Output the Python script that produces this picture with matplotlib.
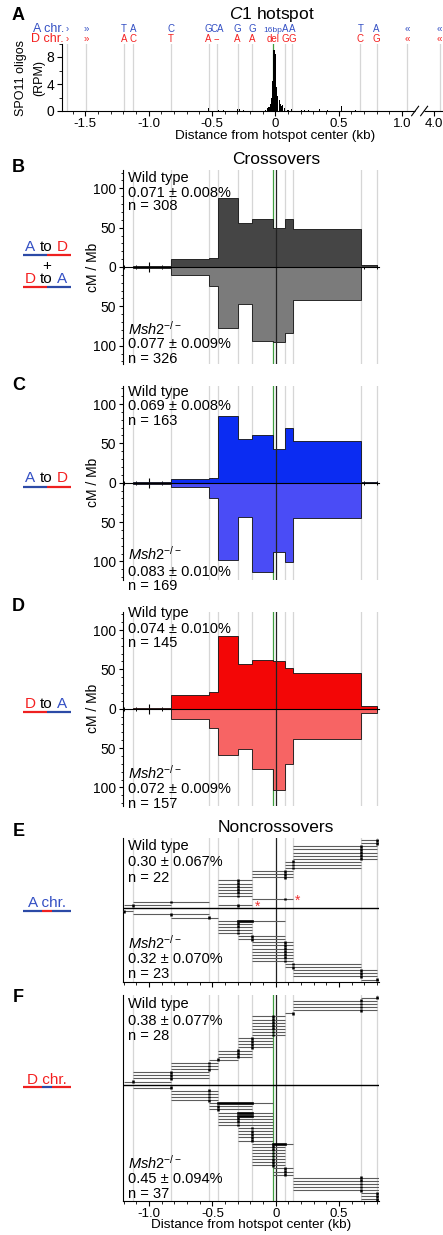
import matplotlib
matplotlib.use('Agg')
import matplotlib.pyplot as plt
from matplotlib.lines import Line2D
from matplotlib.ticker import FixedLocator, MultipleLocator
import matplotlib.transforms as mtrans

plt.rcParams['font.family'] = ['Liberation Sans', 'DejaVu Sans']
plt.rcParams['mathtext.fontset'] = 'custom'
plt.rcParams['mathtext.rm'] = 'Liberation Sans'
plt.rcParams['mathtext.it'] = 'Liberation Sans:italic'
plt.rcParams['mathtext.bf'] = 'Liberation Sans:bold'
plt.rcParams['axes.unicode_minus'] = False
plt.rcParams['axes.linewidth'] = 0.8

# ---------------- data ----------------
# Panel A polymorphism positions (kb); the last two lie beyond the axis break
poly_a = [-1.642, -1.492, -1.195, -1.124, -0.824, -0.526, -0.458, -0.298,
          -0.185, -0.019, 0.076, 0.134, 0.671, 0.800, 1.039, 1.297]
allele_a = ['›', '»', 'T', 'A', 'C', 'G', 'CA', 'G', 'G', '16bp', 'A', 'A', 'T', 'A', '«', '«']
allele_d = ['›', '»', 'A', 'C', 'T', 'A', '--', 'A', 'A', 'del', 'G', 'G', 'C', 'G', '«', '«']
del_index = 9

spo11_kb = [-0.53, -0.45, -0.41, -0.30, -0.28, -0.25, -0.08, -0.06, -0.05, -0.04,
            -0.03, -0.02, -0.01, 0.00, 0.01, 0.02, 0.03, 0.04, 0.05, 0.06,
            0.07, 0.10, 0.13, 0.21, 0.23, 0.26, 0.35, 0.41, 0.52, 0.63]
spo11_rpm = [0.4, 0.15, 0.15, 0.35, 0.3, 0.15, 0.2, 0.4, 0.6, 1.0,
             2.0, 4.5, 9.1, 8.5, 3.6, 2.2, 1.6, 1.0, 0.7, 0.9,
             0.4, 0.2, 0.25, 0.15, 0.2, 0.15, 0.3, 0.15, 0.75, 0.15]

a_xticks = [-1.5, -1.0, -0.5, 0.0, 0.5, 1.0, 1.25]
a_xticklabels = ['-1.5', '-1.0', '-0.5', '0', '0.5', '1.0', '4.0']

# markers used in panels B-F (index 0..11)
poly_bf = poly_a[2:14]

# crossover bins (edges = markers 1..11), cM/Mb
co_edges = poly_bf[1:12]
co_b_wt = [1.5, 10, 12, 88, 56, 61, 50, 61, 48, 2]
co_b_mu = [0.8, 10, 24, 77, 47, 94, 95, 84, 42, 0.5]
co_c_wt = [0.5, 5, 6, 85, 56, 61, 43, 70, 53, 0.3]
co_c_mu = [1.5, 5, 20, 98, 44, 114, 88, 101, 45, 0.3]
co_d_wt = [0.5, 18, 21, 92, 57, 62, 60, 52, 45, 4]
co_d_mu = [0.5, 13, 25, 59, 51, 76, 103, 70, 39, 5]

# noncrossover tracts: (left bound, right bound, first converted, last converted, rows)
# marker indices into poly_bf; 'L'/'R' = beyond the axis edge
nco_e_wt = [(0, 2, 1, 1, 1), (1, 3, 2, 2, 1), (6, 9, 8, 8, 1), (4, 6, 5, 5, 6),
            (6, 9, 8, 8, 3), (8, 10, 9, 9, 3), (9, 11, 10, 10, 5), (10, 'R', 11, 11, 2)]
nco_e_wt_extra = [(1, 4, 6, 5, 5)]          # (row, left, right, conv lo, conv hi)
nco_e_wt_star_rows = [1, 3]
nco_e_mu = [('L', 1, 0, 0, 1), (1, 3, 2, 2, 1), (2, 4, 3, 3, 1), (4, 8, 5, 6, 1),
            (4, 6, 5, 5, 4), (5, 8, 6, 6, 2), (6, 9, 8, 8, 7), (8, 10, 9, 9, 2),
            (9, 11, 10, 10, 3), (10, 'R', 11, 11, 1)]
nco_f_wt = [(0, 2, 1, 1, 1), (1, 3, 2, 2, 3), (2, 4, 3, 3, 3), (3, 5, 4, 4, 1),
            (4, 6, 5, 5, 3), (5, 7, 6, 6, 4), (6, 8, 7, 7, 7), (8, 9, 9, 9, 1),
            (9, 11, 10, 10, 4), (10, 'R', 11, 11, 1)]
nco_f_mu = [(1, 2, 2, 2, 1), (2, 4, 3, 3, 4), (3, 7, 4, 6, 1), (3, 6, 4, 4, 2),
            (4, 7, 5, 6, 2), (4, 7, 5, 5, 3), (5, 7, 6, 6, 5), (6, 9, 7, 8, 1),
            (6, 8, 7, 7, 7), (7, 9, 8, 8, 3), (9, 'R', 10, 10, 5), (10, 'R', 11, 11, 3)]

stats_b = (['Wild type', '0.071 ± 0.008%', 'n = 308'], ['0.077 ± 0.009%', 'n = 326'])
stats_c = (['Wild type', '0.069 ± 0.008%', 'n = 163'], ['0.083 ± 0.010%', 'n = 169'])
stats_d = (['Wild type', '0.074 ± 0.010%', 'n = 145'], ['0.072 ± 0.009%', 'n = 157'])
stats_e = (['Wild type', '0.30 ± 0.067%', 'n = 22'], ['0.32 ± 0.070%', 'n = 23'])
stats_f = (['Wild type', '0.38 ± 0.077%', 'n = 28'], ['0.45 ± 0.094%', 'n = 37'])

# ---------------- figure ----------------
W, H = 443, 1235
fig = plt.figure(figsize=(W / 100, H / 100), dpi=100)

BLUE_T = '#3450c4'
RED_T = '#f42020'
BLUE_B = '#2c4aa6'
RED_B = '#ee2020'
GREY_V = '#d6d6d6'
GREEN = '#3f9e3f'


def rect(l, t, r, b):
    return [l / W, 1 - b / H, (r - l) / W, (b - t) / H]


def ftext(x, y, s, **kw):
    return fig.text(x / W, 1 - y / H, s, **kw)


def fline(x0, x1, y, color, lw=1.6):
    fig.add_artist(Line2D([x0 / W, x1 / W], [1 - y / H, 1 - y / H],
                          transform=fig.transFigure, color=color, lw=lw,
                          solid_capstyle='butt'))


# ---------- Panel A ----------
axA = fig.add_axes(rect(62, 43.5, 443, 111))
axA.set_xlim(-1.6835, 1.3236)
axA.set_ylim(0, 10)
for i, p in enumerate(poly_a):
    if i == del_index:
        axA.axvline(p, color=GREEN, lw=0.9, zorder=1)
    else:
        axA.axvline(p, color=GREY_V, lw=0.9, zorder=0)
axA.bar(spo11_kb, spo11_rpm, width=0.009, color='k', zorder=2)
for s in ['top', 'right', 'bottom']:
    axA.spines[s].set_visible(False)
axA.set_xticks(a_xticks)
axA.set_xticklabels(a_xticklabels)
axA.xaxis.set_minor_locator(FixedLocator([round(-1.6 + 0.1 * i, 2) for i in range(27)]))
axA.tick_params(axis='x', which='major', length=3.5, width=0.8, labelsize=9.5, pad=1.5)
axA.tick_params(axis='x', which='minor', length=2, width=0.6)
axA.set_yticks([0, 4, 8])
axA.yaxis.set_minor_locator(FixedLocator([2, 6, 10]))
axA.tick_params(axis='y', which='major', length=3.5, width=0.8, labelsize=10, pad=2)
axA.tick_params(axis='y', which='minor', length=2, width=0.6)
trA = mtrans.blended_transform_factory(axA.transData, axA.transAxes)
axA.plot([-1.6835, 1.105], [0, 0], transform=trA, color='k', lw=0.8, clip_on=False,
         solid_capstyle='butt')
axA.plot([1.175, 1.33], [0, 0], transform=trA, color='k', lw=0.8, clip_on=False,
         solid_capstyle='butt')
axA.plot([1.076, 1.131], [-0.07, 0.07], transform=trA, color='k', lw=0.8, clip_on=False)
axA.plot([1.147, 1.202], [-0.07, 0.07], transform=trA, color='k', lw=0.8, clip_on=False)

trL = mtrans.blended_transform_factory(axA.transData, fig.transFigure)
for p, la, ld in zip(poly_a, allele_a, allele_d):
    fsa = 6 if la == '16bp' else 7
    axA.text(p, 1 - 31.7 / H, la, transform=trL, ha='center', va='baseline',
             fontsize=fsa, color=BLUE_T, clip_on=False)
    axA.text(p, 1 - 42.3 / H, ld, transform=trL, ha='center', va='baseline',
             fontsize=7, color=RED_T, clip_on=False)
ftext(64, 31.7, 'A chr.', ha='right', va='baseline', fontsize=9, color=BLUE_T)
ftext(64, 42.3, 'D chr.', ha='right', va='baseline', fontsize=9, color=RED_T)
ftext(272, 14, r'$\mathit{C1}$ hotspot', ha='center', va='center', fontsize=12.5)
ftext(21, 78, 'SPO11 oligos', rotation=90, ha='center', va='center', fontsize=9)
ftext(39, 78, '(RPM)', rotation=90, ha='center', va='center', fontsize=9)
ftext(275, 136, 'Distance from hotspot center (kb)', ha='center', va='center', fontsize=9.7)

# ---------- helpers for B-F ----------
XL = (-1.2076, 0.8153)


def pos(m):
    if m == 'L':
        return -1.3
    if m == 'R':
        return 0.9
    return poly_bf[m]


def vlines(ax, green=True):
    for i, p in enumerate(poly_bf):
        if i == 0:
            continue
        if i == 7:
            if green:
                ax.axvline(p, color=GREEN, lw=0.9, zorder=1)
        else:
            ax.axvline(p, color=GREY_V, lw=0.9, zorder=0)


def xminor(ax):
    ax.xaxis.set_major_locator(FixedLocator([-1.0, -0.5, 0.0, 0.5]))
    ax.xaxis.set_minor_locator(FixedLocator([round(-1.2 + 0.1 * i, 2) for i in range(21)]))


def stats(y_wt, y_mu, st, fs=10.5):
    for y, s in zip(y_wt, st[0]):
        ftext(127.7, y, s, ha='left', va='baseline', fontsize=fs)
    ftext(127.7, y_mu[0], r'$\mathit{Msh2}^{\mathit{-/-}}$', ha='left', va='baseline', fontsize=fs)
    for y, s in zip(y_mu[1:], st[1]):
        ftext(127.7, y, s, ha='left', va='baseline', fontsize=fs)


def co_panel(t, b, wt, mu, cwt, cmu):
    ax = fig.add_axes(rect(122.7, t, 379, b))
    ax.patch.set_alpha(0)
    ax.set_xlim(*XL)
    ax.set_ylim(-123, 123)
    vlines(ax)
    ax.stairs(wt, co_edges, baseline=0, fill=True, facecolor=cwt, edgecolor='#111111',
              linewidth=0.6, zorder=2)
    ax.stairs([-v for v in mu], co_edges, baseline=0, fill=True, facecolor=cmu,
              edgecolor='#111111', linewidth=0.6, zorder=2)
    ax.axvline(0, color='#222222', lw=0.9, zorder=4)
    for s in ['top', 'right']:
        ax.spines[s].set_visible(False)
    ax.spines['bottom'].set_position(('data', 0))
    ax.spines['bottom'].set_zorder(5)
    xminor(ax)
    ax.tick_params(axis='x', which='major', direction='inout', length=6.5, width=0.8,
                   labelbottom=False)
    ax.tick_params(axis='x', which='minor', direction='inout', length=3.2, width=0.7)
    ax.set_yticks([-100, -50, 0, 50, 100])
    ax.set_yticklabels(['100', '50', '0', '50', '100'])
    ax.yaxis.set_minor_locator(MultipleLocator(10))
    ax.tick_params(axis='y', which='major', direction='out', length=3, width=0.8,
                   labelsize=10, pad=2)
    ax.tick_params(axis='y', which='minor', direction='out', length=1.6, width=0.6)
    ftext(93, (t + b) / 2, 'cM / Mb', rotation=90, ha='center', va='center', fontsize=10)
    return ax


def draw_tract(ax, y, l, r, lo, hi):
    ax.plot([pos(l), pos(r)], [y, y], color='#5c5c5c', lw=0.8,
            solid_capstyle='butt', zorder=3)
    if lo == hi:
        ax.plot([pos(lo), pos(lo)], [y - 0.45, y + 0.45], color='k', lw=1.8,
                solid_capstyle='butt', zorder=4)
    else:
        ax.plot([pos(lo), pos(hi)], [y, y], color='k', lw=1.9,
                solid_capstyle='projecting', zorder=4)


def draw_groups(ax, groups, sign):
    k = 0
    for (l, r, lo, hi, n) in groups:
        for _ in range(n):
            k += 1
            draw_tract(ax, sign * k, l, r, lo, hi)


def nco_panel(t, b, ylim, wt, mu, green, labels):
    ax = fig.add_axes(rect(122.7, t, 379, b))
    ax.patch.set_alpha(0)
    ax.set_xlim(*XL)
    ax.set_ylim(*ylim)
    vlines(ax, green=green)
    ax.axvline(0, color='#222222', lw=0.9, zorder=2)
    ax.axhline(0, color='k', lw=1.0, zorder=5)
    draw_groups(ax, wt, 1)
    draw_groups(ax, mu, -1)
    for s in ['top', 'right']:
        ax.spines[s].set_visible(False)
    xminor(ax)
    ax.set_yticks([])
    ax.tick_params(axis='x', which='major', direction='out', length=3.5, width=0.8,
                   labelbottom=labels, labelsize=9.5, pad=1.5)
    ax.tick_params(axis='x', which='minor', direction='out', length=2, width=0.6)
    if labels:
        ax.set_xticklabels(['-1.0', '-0.5', '0', '0.5'])
    return ax


def two_color_label(y_base, y_bar, left, right, first, second):
    c1 = BLUE_T if first == 'A' else RED_T
    c2 = BLUE_T if second == 'A' else RED_T
    ftext(30.2, y_base, first, ha='center', va='baseline', fontsize=11, color=c1)
    ftext(45.9, y_base, 'to', ha='center', va='baseline', fontsize=11, color='k')
    ftext(62.0, y_base, second, ha='center', va='baseline', fontsize=11, color=c2)
    fline(23.3, 47, y_bar, left)
    fline(47, 70.7, y_bar, right)


# ---------- Panel B ----------
ftext(276, 159, 'Crossovers', ha='center', va='center', fontsize=12.5)
co_panel(170.2, 363.8, co_b_wt, co_b_mu, '#454545', '#7b7b7b')
stats([181.7, 196.7, 210.5], [335, 348.5, 363.5], stats_b)
two_color_label(251, 255, BLUE_B, RED_B, 'A', 'D')
ftext(46.7, 265.7, '+', ha='center', va='center', fontsize=11)
two_color_label(282.7, 286.7, RED_B, BLUE_B, 'D', 'A')

# ---------- Panel C ----------
co_panel(385.9, 579.5, co_c_wt, co_c_mu, '#0b2cf2', '#4a4cf6')
stats([395.7, 410.2, 425], [560, 576.5, 590.5], stats_c)
two_color_label(482.3, 486.5, BLUE_B, RED_B, 'A', 'D')

# ---------- Panel D ----------
co_panel(611.9, 805.5, co_d_wt, co_d_mu, '#f30606', '#f76464')
stats([616.7, 633.3, 647], [778.3, 793.3, 807.7], stats_d)
two_color_label(708.3, 711.8, RED_B, BLUE_B, 'D', 'A')

# ---------- Panel E ----------
ftext(276, 827, 'Noncrossovers', ha='center', va='center', fontsize=12.5)
axE = nco_panel(838.3, 982.3, (-23.9, 22.6), nco_e_wt, nco_e_mu, False, False)
for (row, l, r, lo, hi) in nco_e_wt_extra:
    draw_tract(axE, row, l, r, lo, hi)
star_x = {1: poly_bf[6] + 0.04, 3: poly_bf[9] + 0.035}
for row in nco_e_wt_star_rows:
    axE.text(star_x[row], row - 0.6, '*', color='#f03030', fontsize=10,
             ha='center', va='center', zorder=6)
stats([850, 865.7, 881.7], [948.3, 963.3, 978.3], stats_e)
ftext(46.7, 906.7, 'A chr.', ha='center', va='baseline', fontsize=11, color=BLUE_T)
fline(23.3, 42.3, 910.7, BLUE_B)
fline(42.3, 51.7, 910.7, RED_B)
fline(51.7, 70.7, 910.7, BLUE_B)

# ---------- Panel F ----------
axF = nco_panel(995, 1201, (-37.5, 28.9), nco_f_wt, nco_f_mu, True, True)
stats([1008.3, 1025, 1040], [1168.3, 1183.3, 1198.3], stats_f)
ftext(46.7, 1084, 'D chr.', ha='center', va='baseline', fontsize=11, color=RED_T)
fline(23.3, 42.3, 1087.3, RED_B)
fline(42.3, 51.7, 1087.3, BLUE_B)
fline(51.7, 70.7, 1087.3, RED_B)
ftext(251, 1225, 'Distance from hotspot center (kb)', ha='center', va='center', fontsize=9.7)

# ---------- panel letters ----------
for letter, y in [('A', 16), ('B', 167), ('C', 386), ('D', 606), ('E', 832), ('F', 998)]:
    ftext(18.5, y, letter, ha='center', va='center', fontsize=13, fontweight='bold')

fig.savefig('out.png', dpi=100)
